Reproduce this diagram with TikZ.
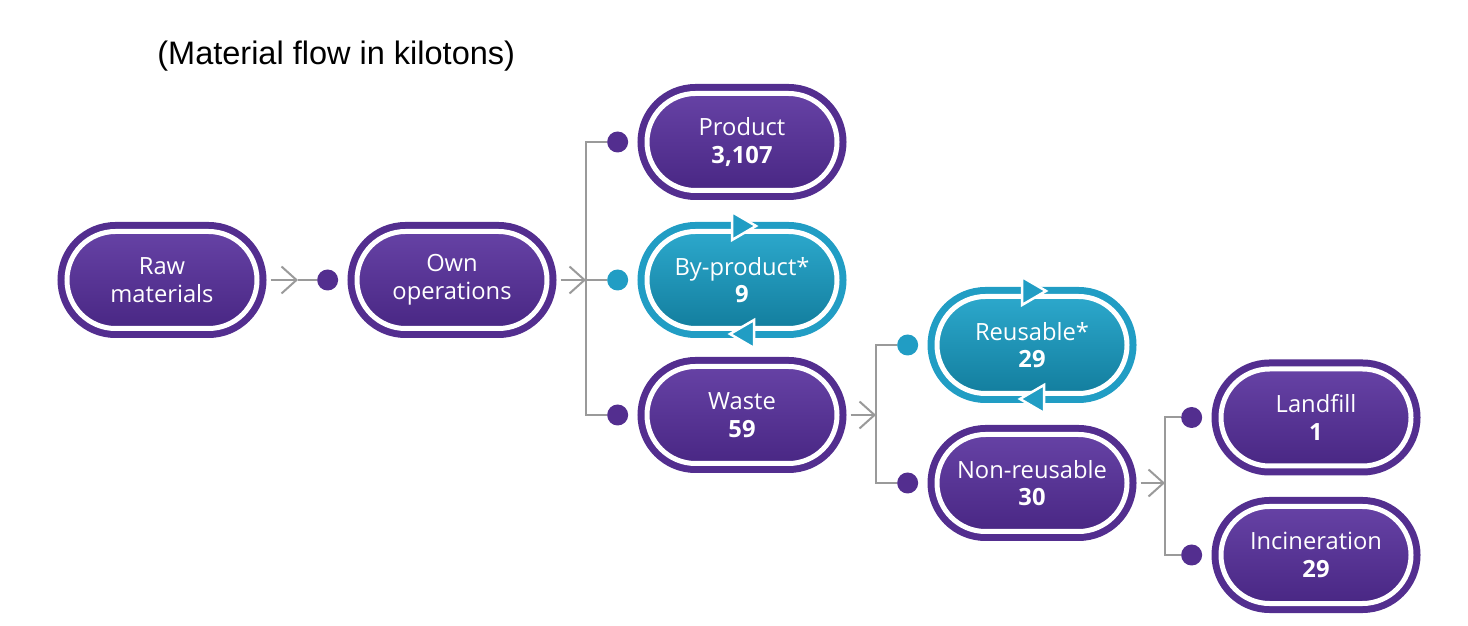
\documentclass[tikz,border=0pt]{standalone}
\usepackage{fontspec}
\setmainfont{Open Sans}
\newfontfamily\titlefont{Liberation Sans}
\usetikzlibrary{calc}
\usetikzlibrary{positioning}
\usetikzlibrary{arrows.meta}
\usetikzlibrary{shapes.misc}

\definecolor{flowpurple}{HTML}{532E8F}
\definecolor{flowpurpletop}{HTML}{6642A5}
\definecolor{flowpurplebot}{HTML}{492784}
\definecolor{flowteal}{HTML}{219DC4}
\definecolor{flowtealtop}{HTML}{2CA8CC}
\definecolor{flowtealbot}{HTML}{137E9E}
\definecolor{flowgrey}{HTML}{9A9A9A}

\tikzset{
  flowshape/.style={rounded rectangle, minimum width=3.8cm, minimum height=1.94cm,
    inner sep=0pt, draw=white, line width=0.1cm, text=white, align=center,
    font=\fontsize{13.5}{15.8}\selectfont},
  flowbox/.style={flowshape, preaction={draw=flowpurple, line width=0.38cm},
    top color=flowpurpletop, bottom color=flowpurplebot},
  reusebox/.style={flowshape, preaction={draw=flowteal, line width=0.38cm},
    top color=flowtealtop, bottom color=flowtealbot},
  flowdot/.style={circle, fill=flowpurple, minimum size=0.42cm, inner sep=0pt},
  reusedot/.style={flowdot, fill=flowteal},
  flowline/.style={flowgrey, line width=0.04cm},
  flowtip/.style={-{Straight Barb[length=0.3cm, width=0.54cm]}},
  loopmark/.style={fill=flowteal, draw=white, line width=0.05cm, line join=miter}
}

\begin{document}
\begin{tikzpicture}
\useasboundingbox (0,0) rectangle (29.36,12.5);
\node[anchor=base west, inner sep=0pt, font=\titlefont\fontsize{18.5}{22}\selectfont] (title) at (3.14,11.2) {(Material flow in kilotons)};
% boxes
\node[flowbox] (raw) at (3.24,6.9) {Raw\\materials};
\node[flowbox] (own) at (9.04,6.9) {Own\\operations};
\node[flowbox] (product) at (14.84,9.66) {Product\\\textbf{3,107}};
\node[reusebox] (byprod) at (14.84,6.9) {By-product*\\\textbf{9}};
\node[flowbox] (waste) at (14.84,4.2) {Waste\\\textbf{59}};
\node[reusebox] (reuse) at (20.64,5.6) {Reusable*\\\textbf{29}};
\node[flowbox] (nonreuse) at (20.64,2.84) {Non-reusable\\\textbf{30}};
\node[flowbox] (landfill) at (26.32,4.15) {Landfill\\\textbf{1}};
\node[flowbox] (incin) at (26.32,1.4) {Incineration\\\textbf{29}};
% loop marks on the reusable boxes
\foreach \b in {byprod,reuse}{
  \draw[loopmark] ($(\b.north)+(-0.2,0.34)$) -- ++(0.48,-0.28) -- ++(-0.48,-0.28) -- cycle;
  \draw[loopmark] ($(\b.south)+(0.24,-0.34)$) -- ++(-0.48,0.28) -- ++(0.48,0.28) -- cycle;
}
% dots
\node[flowdot, left=0.32cm of own] (downn) {};
\node[flowdot, left=0.32cm of product] (dproduct) {};
\node[reusedot, left=0.32cm of byprod] (dbyprod) {};
\node[flowdot, left=0.32cm of waste] (dwaste) {};
\node[reusedot, left=0.32cm of reuse] (dreuse) {};
\node[flowdot, left=0.32cm of nonreuse] (dnonreuse) {};
\node[flowdot, left=0.32cm of landfill] (dlandfill) {};
\node[flowdot, left=0.32cm of incin] (dincin) {};
% connectors
\coordinate (rawtip) at (5.96,6.9);
\coordinate (splitA) at (11.72,6.9);
\coordinate (splitB) at (17.52,4.2);
\coordinate (splitC) at (23.3,2.84);
\draw[flowline, flowtip, shorten <=0.22cm] (raw.east) -- (rawtip);
\draw[flowline] (rawtip) -- (downn);
\draw[flowline, flowtip, shorten <=0.22cm] (own.east) -- (splitA);
\draw[flowline] (dproduct) -| (splitA) |- (dwaste);
\draw[flowline] (splitA) -- (dbyprod);
\draw[flowline, flowtip, shorten <=0.22cm] (waste.east) -- (splitB);
\draw[flowline] (dreuse) -| (splitB) |- (dnonreuse);
\draw[flowline, flowtip, shorten <=0.22cm] (nonreuse.east) -- (splitC);
\draw[flowline] (dlandfill) -| (splitC) |- (dincin);
\end{tikzpicture}
\end{document}
